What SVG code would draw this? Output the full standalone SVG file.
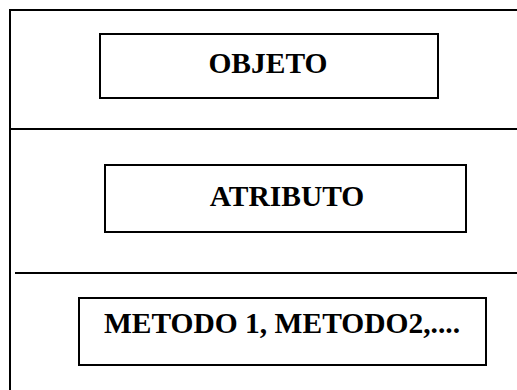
<svg xmlns="http://www.w3.org/2000/svg" width="517" height="390" viewBox="0 0 517 390">
<style>
.frame{fill:none;stroke:#000;stroke-width:2}
.box{fill:#fff;stroke:#000;stroke-width:2}
.lbl{font-family:"Liberation Serif","Times New Roman",serif;font-weight:bold;font-size:29.5px;fill:#000;text-anchor:middle}
</style>
<rect width="517" height="390" fill="#fff"/>
<g id="frame">
<path class="frame" d="M10,400 V10 H530"/>
</g>
<g id="connectors">
<line class="frame" x1="10" y1="129" x2="517" y2="129"/>
<line class="frame" x1="15" y1="273" x2="517" y2="273"/>
</g>
<g id="objeto">
<rect class="box" x="100" y="34" width="338" height="64"/>
<text class="lbl" x="268" y="73">OBJETO</text>
</g>
<g id="atributo">
<rect class="box" x="105" y="165" width="361" height="67"/>
<text class="lbl" x="287" y="206">ATRIBUTO</text>
</g>
<g id="metodo">
<rect class="box" x="79" y="298" width="407" height="67"/>
<text class="lbl" x="282" y="333">METODO 1, METODO2,....</text>
</g>
</svg>
